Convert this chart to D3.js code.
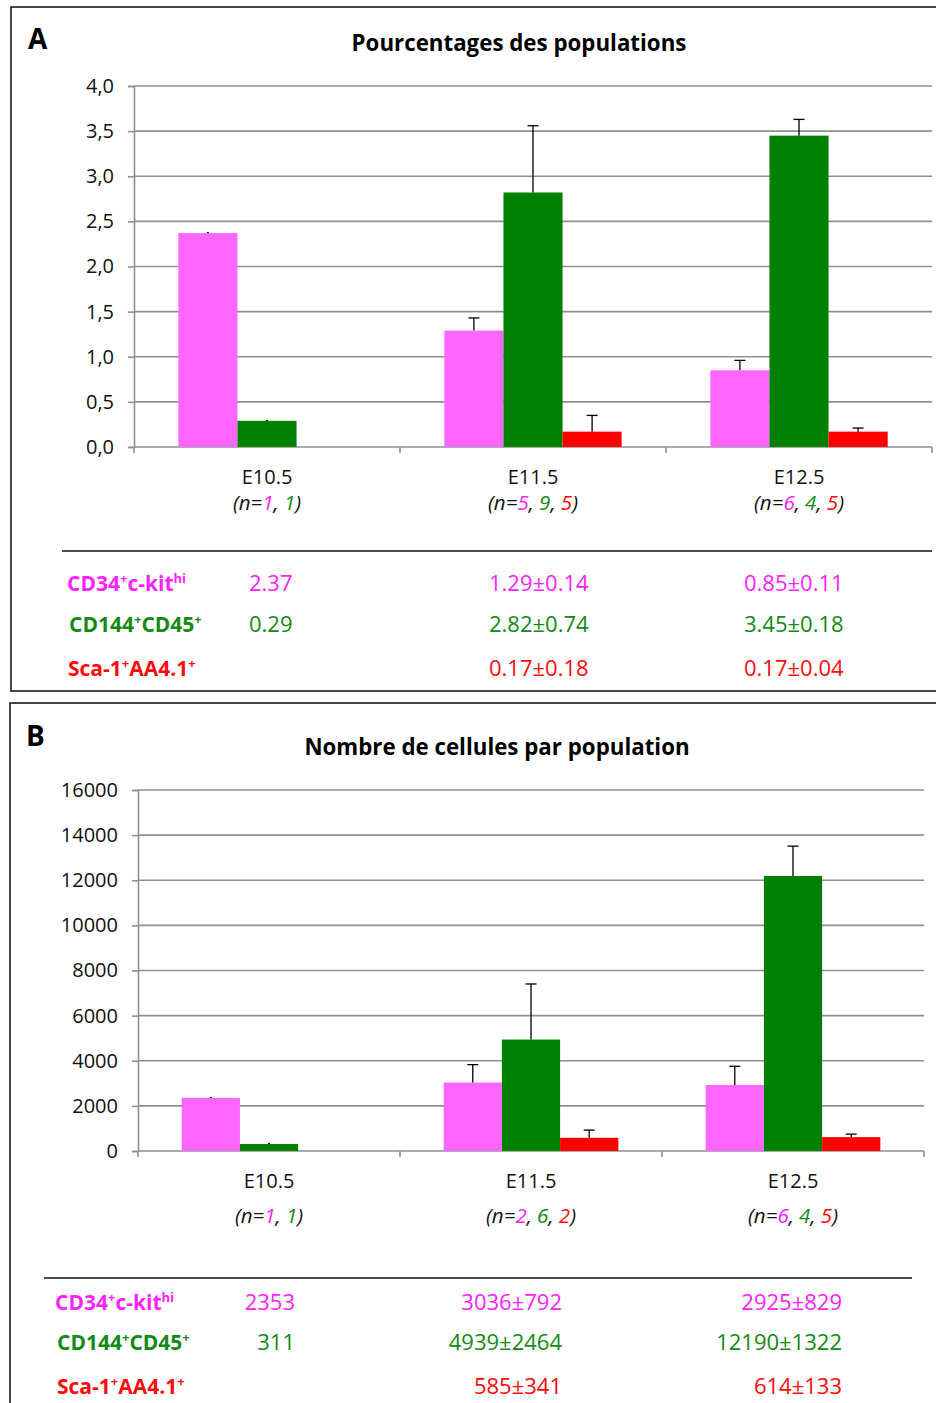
<!DOCTYPE html>
<html><head><meta charset="utf-8">
<script src="https://cdn.jsdelivr.net/npm/d3@7"></script>
<style>
html,body{margin:0;padding:0;background:#fff;}
svg{display:block;font-family:"Open Sans",sans-serif;}
</style></head>
<body>
<svg id="chart" width="936" height="1403"></svg>
<script>
// ---------- DATA ----------
const categories = ["E10.5", "E11.5", "E12.5"];
const seriesKeys = ["cd34", "cd144", "sca1"];
const seriesColors = ["#FF66FF", "#008000", "#FF0000"];
const textColors = ["#FF22FF", "#138A13", "#FF0A0A"];

// Panel A : percentages
const pctCD34 = [2.37, 1.29, 0.85];
const pctCD34Err = [0, 0.14, 0.11];
const pctCD144 = [0.29, 2.82, 3.45];
const pctCD144Err = [0, 0.74, 0.18];
const pctSca1 = [null, 0.17, 0.17];
const pctSca1Err = [null, 0.18, 0.04];
const nA = [[1, 1], [5, 9, 5], [6, 4, 5]];
const yTicksA = [0, 0.5, 1.0, 1.5, 2.0, 2.5, 3.0, 3.5, 4.0];

// Panel B : cell numbers
const cntCD34 = [2353, 3036, 2925];
const cntCD34Err = [0, 792, 829];
const cntCD144 = [311, 4939, 12190];
const cntCD144Err = [0, 2464, 1322];
const cntSca1 = [null, 585, 614];
const cntSca1Err = [null, 341, 133];
const nB = [[1, 1], [2, 6, 2], [6, 4, 5]];
const yTicksB = [0, 2000, 4000, 6000, 8000, 10000, 12000, 14000, 16000];

const titleA = "Pourcentages des populations";
const titleB = "Nombre de cellules par population";

// ---------- DRAW ----------
const svg = d3.select("#chart");

function seriesLabel(g, i, x, y) {
  const t = g.append("text").attr("x", x).attr("y", y)
    .attr("font-weight", "bold").attr("font-size", 21).attr("fill", textColors[i]);
  const sup = (s) => t.append("tspan").attr("font-size", 13).attr("dy", -8).text(s);
  const base = (s) => t.append("tspan").attr("font-size", 21).attr("dy", 8).text(s);
  if (i === 0) {
    t.append("tspan").text("CD34"); sup("+"); base("c-kit"); sup("hi");
  } else if (i === 1) {
    t.append("tspan").text("CD144"); sup("+"); base("CD45"); sup("+");
  } else {
    t.append("tspan").text("Sca-1"); sup("+"); base("AA4.1"); sup("+");
  }
}

function drawPanel(cfg) {
  const g = svg.append("g");
  // frame
  g.append("rect").attr("x", cfg.frame[0]).attr("y", cfg.frame[1])
    .attr("width", cfg.frame[2]).attr("height", cfg.frame[3])
    .attr("fill", "none").attr("stroke", "#1a1a1a").attr("stroke-width", 1.6);
  g.append("text").attr("x", cfg.letterPos[0]).attr("y", cfg.letterPos[1])
    .attr("font-weight", "bold").attr("font-size", 28).text(cfg.letter);
  g.append("text").attr("x", cfg.titlePos[0]).attr("y", cfg.titlePos[1])
    .attr("text-anchor", "middle").attr("font-weight", "bold").attr("font-size", 22.3)
    .text(cfg.title);

  const x = d3.scaleBand().domain(categories).range([cfg.left, cfg.right]).padding(0);
  const bw = x.bandwidth();
  const xs = d3.scaleBand().domain(seriesKeys).range([bw * 0.1667, bw * 0.8333]).padding(0);
  const y = d3.scaleLinear().domain(cfg.domain).range([cfg.bottom, cfg.top]);

  // gridlines
  g.append("g").selectAll("line").data(cfg.ticks).join("line")
    .attr("x1", cfg.left).attr("x2", cfg.right)
    .attr("y1", d => y(d)).attr("y2", d => y(d))
    .attr("stroke", "#8f8f8f").attr("stroke-width", 1.6);

  // y axis
  const ya = g.append("g").attr("transform", `translate(${cfg.left},0)`)
    .call(d3.axisLeft(y).tickValues(cfg.ticks).tickSize(6).tickPadding(14)
      .tickFormat(cfg.fmt));
  ya.select(".domain").attr("stroke", "#8f8f8f").attr("stroke-width", 1.6);
  ya.selectAll(".tick line").attr("stroke", "#8f8f8f").attr("stroke-width", 1.6);
  ya.selectAll(".tick text").attr("font-size", 20).attr("fill", "#111")
    .attr("font-family", '"Open Sans",sans-serif');

  // x axis separators
  const seps = [cfg.left].concat(categories.map(c => x(c) + bw));
  g.append("g").selectAll("line").data(seps).join("line")
    .attr("x1", d => d).attr("x2", d => d)
    .attr("y1", cfg.bottom).attr("y2", cfg.bottom + 6)
    .attr("stroke", "#8f8f8f").attr("stroke-width", 1.6);

  // bars
  const rows = categories.map((c, ci) => ({
    cat: c,
    vals: seriesKeys.map((k, si) => ({ key: k, si, v: cfg.values[si][ci], e: cfg.errors[si][ci] }))
      .filter(d => d.v !== null)
  }));
  const grp = g.append("g").selectAll("g").data(rows).join("g")
    .attr("transform", d => `translate(${x(d.cat)},0)`);
  grp.selectAll("rect").data(d => d.vals).join("rect")
    .attr("x", d => xs(d.key)).attr("width", xs.bandwidth())
    .attr("y", d => y(d.v)).attr("height", d => y(0) - y(d.v))
    .attr("fill", d => seriesColors[d.si]);
  // error bars
  grp.selectAll("g.err").data(d => d.vals).join("g").attr("class", "err")
    .each(function (d) {
      const cx = xs(d.key) + xs.bandwidth() / 2;
      const e = d3.select(this);
      if (d.e > 0) {
        e.append("line").attr("x1", cx).attr("x2", cx).attr("y1", y(d.v)).attr("y2", y(d.v + d.e))
          .attr("stroke", "#000").attr("stroke-width", 1.3);
        e.append("line").attr("x1", cx - 5.5).attr("x2", cx + 5.5).attr("y1", y(d.v + d.e)).attr("y2", y(d.v + d.e))
          .attr("stroke", "#000").attr("stroke-width", 1.3);
      } else {
        e.append("line").attr("x1", cx - 1).attr("x2", cx + 1).attr("y1", y(d.v) - 0.5).attr("y2", y(d.v) - 0.5)
          .attr("stroke", "#000").attr("stroke-width", 1);
      }
    });

  // category labels
  categories.forEach((c, ci) => {
    const cx = x(c) + bw / 2;
    g.append("text").attr("x", cx).attr("y", cfg.catY[0]).attr("text-anchor", "middle")
      .attr("font-size", 20).attr("fill", "#111").text(c);
    const t = g.append("text").attr("x", cx).attr("y", cfg.catY[1]).attr("text-anchor", "middle")
      .attr("font-size", 20.5).attr("font-style", "italic").attr("fill", "#111");
    t.append("tspan").text("(n=");
    cfg.n[ci].forEach((nv, k) => {
      if (k > 0) t.append("tspan").attr("fill", "#111").text(", ");
      t.append("tspan").attr("fill", textColors[k]).text(nv);
    });
    t.append("tspan").attr("fill", "#111").text(")");
  });

  // table
  g.append("line").attr("x1", cfg.tableLine[0]).attr("x2", cfg.tableLine[1])
    .attr("y1", cfg.tableLine[2]).attr("y2", cfg.tableLine[2])
    .attr("stroke", "#111").attr("stroke-width", 1.6);
  seriesKeys.forEach((k, si) => {
    seriesLabel(g, si, cfg.labelX[si], cfg.rowY[si]);
    categories.forEach((c, ci) => {
      const v = cfg.values[si][ci];
      if (v === null) return;
      const e = cfg.errors[si][ci];
      const s = e > 0 ? cfg.tfmt(v) + "±" + cfg.tfmt(e) : cfg.tfmt(v);
      g.append("text").attr("x", cfg.colX[ci]).attr("y", cfg.rowY[si])
        .attr("text-anchor", cfg.colAnchor).attr("font-size", 22)
        .attr("fill", textColors[si]).text(s);
    });
  });
}

drawPanel({
  frame: [11, 7, 960, 684], letter: "A", letterPos: [28, 49],
  title: titleA, titlePos: [519, 51],
  left: 134, right: 932, top: 86, bottom: 447, domain: [0, 4], ticks: yTicksA,
  fmt: d => d3.format(".1f")(d).replace(".", ","),
  values: [pctCD34, pctCD144, pctSca1], errors: [pctCD34Err, pctCD144Err, pctSca1Err],
  n: nA, catY: [484, 510],
  tableLine: [62, 932, 551], labelX: [67, 69, 68], rowY: [591, 632, 676],
  colX: [249, 489, 744], colAnchor: "start", tfmt: d => d3.format(".2f")(d)
});

drawPanel({
  frame: [10, 703, 960, 800], letter: "B", letterPos: [26, 746],
  title: titleB, titlePos: [497, 755],
  left: 138, right: 924, top: 790, bottom: 1151, domain: [0, 16000], ticks: yTicksB,
  fmt: d => String(d),
  values: [cntCD34, cntCD144, cntSca1], errors: [cntCD34Err, cntCD144Err, cntSca1Err],
  n: nB, catY: [1188, 1223],
  tableLine: [44, 912, 1278], labelX: [55, 57, 57], rowY: [1310, 1350, 1394],
  colX: [295, 562, 842], colAnchor: "end", tfmt: d => String(d)
});
</script>
</body></html>
